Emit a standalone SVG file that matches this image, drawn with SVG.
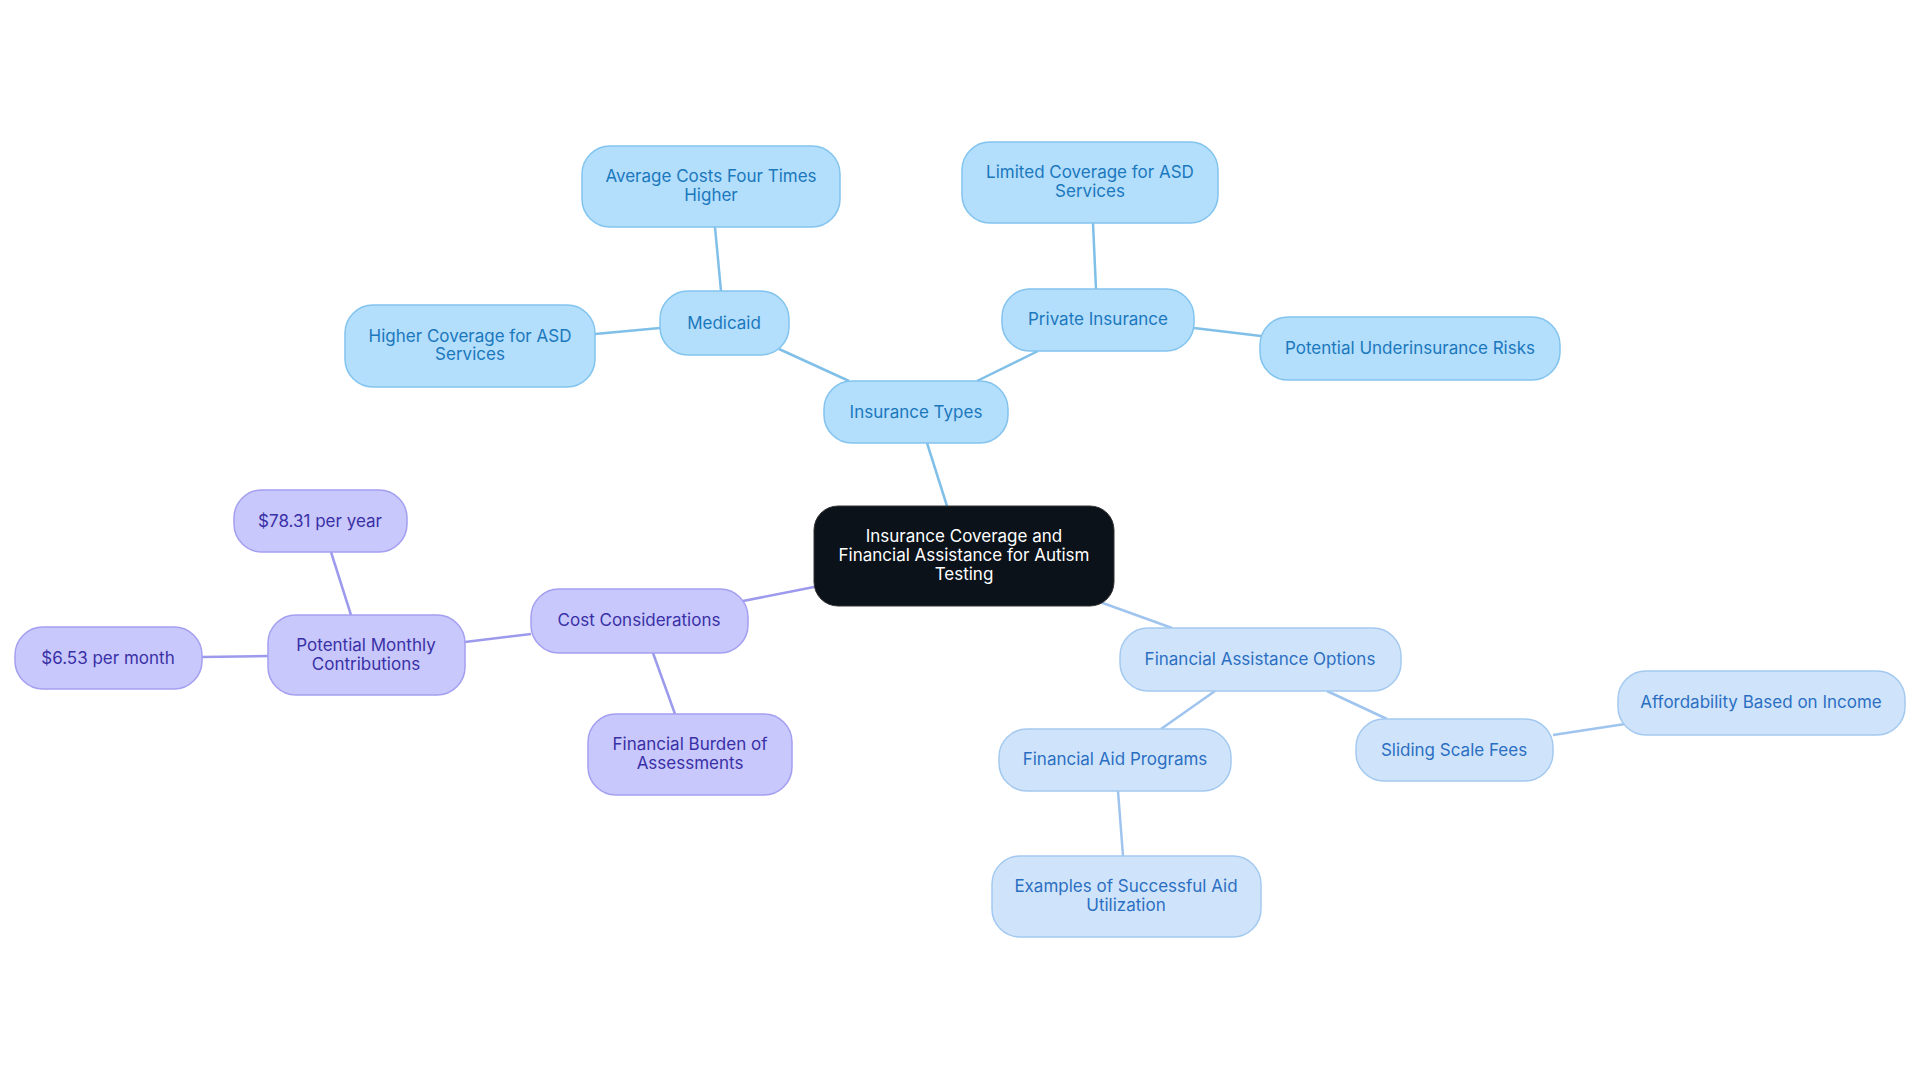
<svg xmlns="http://www.w3.org/2000/svg" width="1920" height="1083" viewBox="0 0 1920 1083">
<style>
text{font-family:Inter,"Noto Sans","Liberation Sans",sans-serif;font-size:17px;text-anchor:middle}
.b rect{fill:#b3defc;stroke:#82c4ee;stroke-width:1.5}
.b text{fill:#1b78bd}
.p rect{fill:#c8c8fc;stroke:#a49ff0;stroke-width:1.5}
.p text{fill:#3a30a6}
.l rect{fill:#cfe4fb;stroke:#a4c9f0;stroke-width:1.5}
.l text{fill:#2c6fc2}
#edges line{stroke-width:2.5}
.eb{stroke:#7fbfe8}.ep{stroke:#9c9aec}.el{stroke:#9fc4ee}
</style>
<rect width="1920" height="1083" fill="#fff"/>
<g id="edges">
<line class="eb" x1="947" y1="506" x2="927" y2="443"/>
<line class="eb" x1="849" y1="381" x2="779" y2="349"/>
<line class="eb" x1="721" y1="291" x2="715" y2="227"/>
<line class="eb" x1="660" y1="328" x2="595" y2="334"/>
<line class="eb" x1="977" y1="381" x2="1038" y2="351"/>
<line class="eb" x1="1096" y1="289" x2="1093" y2="223"/>
<line class="eb" x1="1194" y1="328" x2="1261" y2="336"/>
<line class="ep" x1="814" y1="587" x2="743" y2="601"/>
<line class="ep" x1="531" y1="634" x2="465" y2="642"/>
<line class="ep" x1="351" y1="615" x2="331" y2="552"/>
<line class="ep" x1="268" y1="656" x2="202" y2="657"/>
<line class="ep" x1="653" y1="653" x2="675" y2="714"/>
<line class="el" x1="1100" y1="602" x2="1172" y2="628"/>
<line class="el" x1="1215" y1="691" x2="1161" y2="729"/>
<line class="el" x1="1118" y1="791" x2="1123" y2="856"/>
<line class="el" x1="1327" y1="691" x2="1387" y2="719"/>
<line class="el" x1="1553" y1="735" x2="1625" y2="724"/>
</g>
<g id="center"><rect x="814" y="506" width="300" height="100" rx="24" fill="#0b121a" stroke="#333" stroke-width="1"/>
<text fill="#fff" x="964" y="542">Insurance Coverage and</text><text fill="#fff" x="964" y="561">Financial Assistance for Autism</text><text fill="#fff" x="964" y="580">Testing</text></g>
<g id="insurance-types" class="b"><rect x="824" y="381" width="184" height="62" rx="28"/><text x="916" y="418">Insurance Types</text></g>
<g id="medicaid" class="b"><rect x="660" y="291" width="129" height="64" rx="28"/><text x="724" y="329">Medicaid</text></g>
<g id="average-costs" class="b"><rect x="582" y="146" width="258" height="81" rx="28"/><text x="711" y="182">Average Costs Four Times</text><text x="711" y="201">Higher</text></g>
<g id="higher-coverage" class="b"><rect x="345" y="305" width="250" height="82" rx="28"/><text x="470" y="342">Higher Coverage for ASD</text><text x="470" y="360">Services</text></g>
<g id="private-insurance" class="b"><rect x="1002" y="289" width="192" height="62" rx="28"/><text x="1098" y="325">Private Insurance</text></g>
<g id="limited-coverage" class="b"><rect x="962" y="142" width="256" height="81" rx="28"/><text x="1090" y="178">Limited Coverage for ASD</text><text x="1090" y="197">Services</text></g>
<g id="underinsurance" class="b"><rect x="1260" y="317" width="300" height="63" rx="28"/><text x="1410" y="354">Potential Underinsurance Risks</text></g>
<g id="cost-considerations" class="p"><rect x="531" y="589" width="217" height="64" rx="28"/><text x="639" y="626">Cost Considerations</text></g>
<g id="monthly-contributions" class="p"><rect x="268" y="615" width="197" height="80" rx="28"/><text x="366" y="651">Potential Monthly</text><text x="366" y="670">Contributions</text></g>
<g id="per-year" class="p"><rect x="234" y="490" width="173" height="62" rx="28"/><text x="320" y="527">$78.31 per year</text></g>
<g id="per-month" class="p"><rect x="15" y="627" width="187" height="62" rx="28"/><text x="108" y="664">$6.53 per month</text></g>
<g id="financial-burden" class="p"><rect x="588" y="714" width="204" height="81" rx="28"/><text x="690" y="750">Financial Burden of</text><text x="690" y="769">Assessments</text></g>
<g id="assistance-options" class="l"><rect x="1120" y="628" width="281" height="63" rx="28"/><text x="1260" y="665">Financial Assistance Options</text></g>
<g id="aid-programs" class="l"><rect x="999" y="729" width="232" height="62" rx="28"/><text x="1115" y="765">Financial Aid Programs</text></g>
<g id="examples" class="l"><rect x="992" y="856" width="269" height="81" rx="28"/><text x="1126" y="892">Examples of Successful Aid</text><text x="1126" y="911">Utilization</text></g>
<g id="sliding-scale" class="l"><rect x="1356" y="719" width="197" height="62" rx="28"/><text x="1454" y="756">Sliding Scale Fees</text></g>
<g id="affordability" class="l"><rect x="1618" y="671" width="287" height="64" rx="28"/><text x="1761" y="708">Affordability Based on Income</text></g>
</svg>
